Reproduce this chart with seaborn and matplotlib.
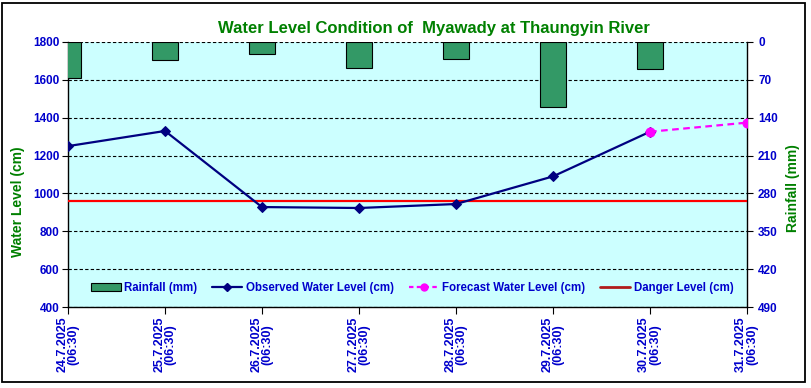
import matplotlib
matplotlib.use('Agg')
import matplotlib.pyplot as plt
import seaborn as sns
import pandas as pd
from matplotlib import font_manager
from matplotlib.patches import Patch, Rectangle
from matplotlib.lines import Line2D

# ---- data ----
dates = ["24.7.2025", "25.7.2025", "26.7.2025", "27.7.2025",
         "28.7.2025", "29.7.2025", "30.7.2025", "31.7.2025"]
time_label = "(06:30)"
rainfall_mm = [67, 33, 22, 48, 32, 121, 50]
observed_cm = [1250, 1330, 928, 923, 944, 1090, 1326]
forecast_cm = [1326, 1374]           # 30.7 and 31.7
danger_cm = 960
wl_ticks = [400, 600, 800, 1000, 1200, 1400, 1600, 1800]
rain_ticks = [0, 70, 140, 210, 280, 350, 420, 490]

sns.set_theme(style='white')
names = {f.name for f in font_manager.fontManager.ttflist}
narrow = 'Liberation Sans Narrow' in names
base = 'Liberation Sans'
nfam = ['Liberation Sans Narrow', 'DejaVu Sans'] if narrow else [base, 'DejaVu Sans']
plt.rcParams['font.family'] = [base, 'DejaVu Sans']

pos = list(range(len(dates)))
df_rain = pd.DataFrame({'pos': pos[:len(rainfall_mm)], 'rain': rainfall_mm})
df_obs = pd.DataFrame({'pos': pos[:len(observed_cm)], 'wl': observed_cm})
df_fc = pd.DataFrame({'pos': pos[len(observed_cm) - 1:], 'wl': forecast_cm})
df_dg = pd.DataFrame({'pos': [pos[0], pos[-1]], 'wl': [danger_cm, danger_cm]})

fig = plt.figure(figsize=(8.12, 3.88), dpi=100)
fig.patch.set_facecolor('white')
ax = fig.add_axes([68 / 812, 1 - 307 / 388, (747 - 68) / 812, (307 - 42) / 388])
ax2 = ax.twinx()

# bars on secondary (inverted) axis, drawn below the lines
sns.barplot(data=df_rain, x='pos', y='rain', native_scale=True, ax=ax2,
            width=0.27, color='#339966', saturation=1, edgecolor='black',
            linewidth=0.8, errorbar=None, zorder=3)
ax2.set_ylim(490, 0)
ax2.set_yticks(rain_ticks)
ax2.set_facecolor('#CCFFFF')
ax2.patch.set_visible(True)
ax2.grid(axis='y', color='black', linestyle=(0, (3, 2)), linewidth=0.8, zorder=0)
ax2.set_axisbelow(True)

ax.set_zorder(ax2.get_zorder() + 1)
ax.patch.set_visible(False)

sns.lineplot(data=df_dg, x='pos', y='wl', ax=ax, color='#FF0000', linewidth=1.6)
sns.lineplot(data=df_obs, x='pos', y='wl', ax=ax, color='#000080', linewidth=1.6,
             marker='D', markersize=5, markeredgecolor='#000080')
sns.lineplot(data=df_fc, x='pos', y='wl', ax=ax, color='#FF00FF', linewidth=1.6,
             linestyle=(0, (3, 2)), marker='o', markersize=6.5, markeredgecolor='#FF00FF')

ax.set_xlim(0, 7)
ax2.set_xlim(0, 7)
ax.set_ylim(400, 1800)
ax.set_yticks(wl_ticks)
ax.set_xticks(pos)
ax.set_xticklabels([f"{d}\n{time_label}" for d in dates], rotation=90,
                   fontsize=9, fontweight='bold', color='#0000CC',
                   linespacing=0.95, multialignment='center')
ax.set_xlabel('')
ax.set_ylabel('')
ax2.set_ylabel('')
ax2.set_xlabel('')

tick_col = '#0000CC'
for a in (ax, ax2):
    for sp in a.spines.values():
        sp.set_visible(False)
for k in ('left', 'right', 'bottom'):
    ax2.spines[k].set_visible(True)
    ax2.spines[k].set_color('black')
    ax2.spines[k].set_linewidth(1.0)

ax.tick_params(axis='y', which='both', left=True, direction='out', length=4,
               width=0.8, color='black', labelsize=8.5, labelcolor=tick_col, pad=2)
ax.tick_params(axis='x', bottom=True, direction='out', length=5, width=0.8,
               color='black', pad=2)
ax2.tick_params(axis='y', right=True, direction='out', length=4, width=0.8,
                color='black', labelsize=8.5, labelcolor=tick_col, pad=4)
ax2.tick_params(axis='x', bottom=False, labelbottom=False)
for lab in ax.get_yticklabels() + ax2.get_yticklabels():
    lab.set_fontweight('bold')

fig.text(18 / 812, 1 - 202 / 388, 'Water Level (cm)', rotation=90, ha='center',
         va='center', color='#008000', fontsize=10, fontweight='bold')
fig.text(793 / 812, 1 - 188 / 388, 'Rainfall (mm)', rotation=90, ha='center',
         va='center', color='#008000', fontsize=10, fontweight='bold')
fig.text(434 / 812, 1 - 28 / 388, 'Water Level Condition of  Myawady at Thaungyin River',
         ha='center', va='center', color='#008000',
         fontsize=13.5 if narrow else 12, fontweight='bold', family=nfam)

handles = [
    Patch(facecolor='#339966', edgecolor='black', linewidth=0.8),
    Line2D([], [], color='#000080', linewidth=1.6, marker='D', markersize=4),
    Line2D([], [], color='#FF00FF', linewidth=1.6, linestyle=(0, (2, 1.5)),
           marker='o', markersize=5),
    Line2D([], [], color='#B01C1C', linewidth=2),
]
labels = ['Rainfall (mm)', 'Observed Water Level (cm)', 'Forecast Water Level (cm)',
          'Danger Level (cm)']
leg = ax.legend(handles, labels, loc='center', bbox_to_anchor=(0.507, 0.072),
                ncol=4, frameon=False, handlelength=2.6, handleheight=0.6,
                columnspacing=1.3, handletextpad=0.3,
                prop={'family': nfam, 'weight': 'bold',
                      'size': 9.5 if narrow else 8.3})
for t in leg.get_texts():
    t.set_color('#0000CC')

fig.add_artist(Rectangle((2.5 / 812, 1 - 382 / 388), 803 / 812, 379 / 388,
                         transform=fig.transFigure, fill=False,
                         edgecolor='black', linewidth=1.3))

fig.savefig('out.png', dpi=100, facecolor='white')
